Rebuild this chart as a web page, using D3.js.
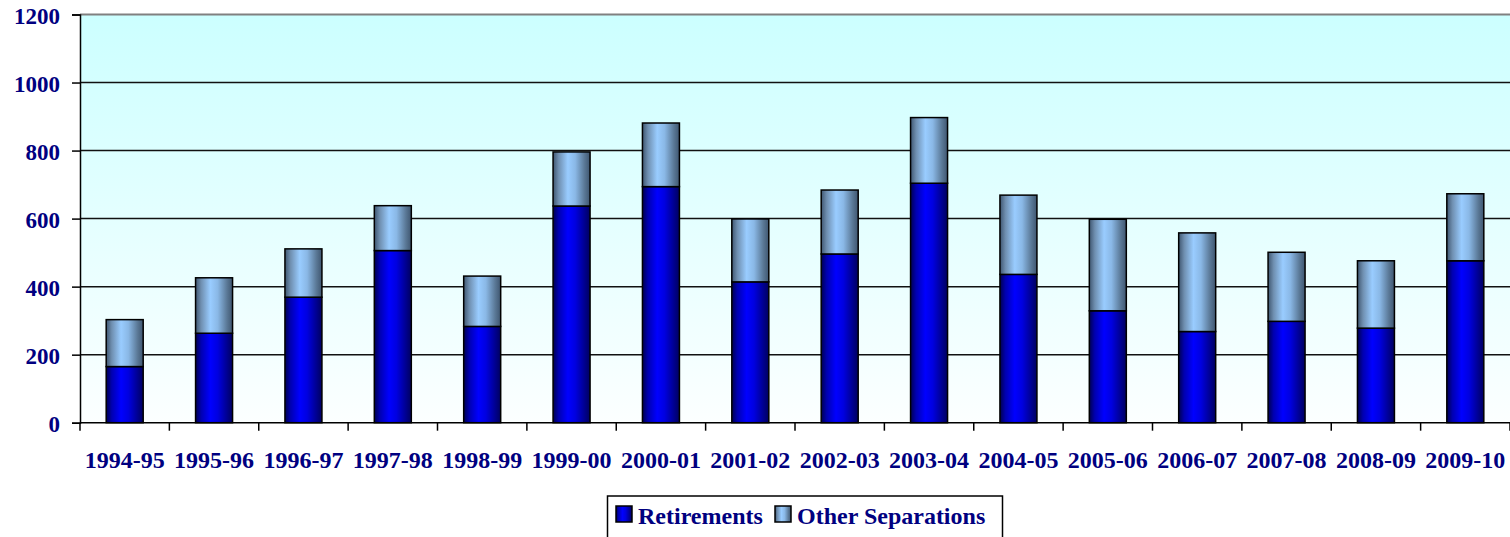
<!DOCTYPE html>
<html><head><meta charset="utf-8">
<script src="https://cdn.jsdelivr.net/npm/d3@7/dist/d3.min.js"></script>
<style>
html,body{margin:0;padding:0;background:#fff;}
svg{display:block;}
text{font-family:"Liberation Serif","Times New Roman",serif;font-weight:bold;fill:#000080;}
</style></head>
<body>
<svg id="chart" width="1510" height="537"></svg>
<script>
const categories = ["1994-95","1995-96","1996-97","1997-98","1998-99","1999-00","2000-01","2001-02","2002-03","2003-04","2004-05","2005-06","2006-07","2007-08","2008-09","2009-10"];
const retirements = [165,263,369,506,283,637,694,414,496,704,436,329,268,298,278,476];
const otherSeparations = [138,163,142,132,148,159,187,185,188,193,233,269,290,203,198,197];
const yTicks = [0,200,400,600,800,1000,1200];
const seriesNames = ["Retirements","Other Separations"];

const svg = d3.select("#chart");
const mLeft = 80, mRight = 1510, mTop = 14.5, mBottom = 422.7;

const x = d3.scaleBand().domain(categories).range([mLeft, mRight]).paddingInner(0.586).paddingOuter(0.293);
const y = d3.scaleLinear().domain([0,1200]).range([mBottom, mTop]);

const defs = svg.append("defs");
const bg = defs.append("linearGradient").attr("id","bg").attr("x1",0).attr("y1",0).attr("x2",0).attr("y2",1);
bg.append("stop").attr("offset","0%").attr("stop-color","#ccffff");
bg.append("stop").attr("offset","100%").attr("stop-color","#fcffff");

function hGrad(id, stops){
  const g = defs.append("linearGradient").attr("id",id).attr("x1",0).attr("y1",0).attr("x2",1).attr("y2",0);
  stops.forEach(s=>g.append("stop").attr("offset",s[0]).attr("stop-color",s[1]));
}
hGrad("gRet", [["0%","#000050"],["15%","#0000b0"],["40%","#0000ff"],["60%","#0000e0"],["85%","#000090"],["100%","#000060"]]);
hGrad("gOth", [["0%","#3f5670"],["15%","#6f8fb0"],["40%","#99ccff"],["60%","#8ab8e6"],["85%","#5a7896"],["100%","#3f5670"]]);

// plot background
svg.append("rect").attr("x",mLeft).attr("y",y(1200)).attr("width",mRight-mLeft).attr("height",y(0)-y(1200)).attr("fill","url(#bg)");

// gridlines
svg.append("g").selectAll("line").data(yTicks.filter(d=>d>0)).join("line")
  .attr("x1",mLeft).attr("x2",mRight).attr("y1",d=>y(d)).attr("y2",d=>y(d))
  .attr("stroke",d=>d===1200?"#808080":"#111").attr("stroke-width",d=>d===1200?2:1.5);

// stacked bars
const stackData = categories.map((c,i)=>({cat:c, r:retirements[i], o:otherSeparations[i]}));
const stack = d3.stack().keys(["r","o"])(stackData);
const fills = ["url(#gRet)","url(#gOth)"];
stack.forEach((layer,li)=>{
  svg.append("g").selectAll("rect").data(layer).join("rect")
    .attr("x",d=>x(d.data.cat)).attr("width",x.bandwidth())
    .attr("y",d=>y(d[1])).attr("height",d=>y(d[0])-y(d[1]))
    .attr("fill",fills[li]).attr("stroke","#000").attr("stroke-width",1.5);
});

// y axis
const yAxis = svg.append("g").attr("transform",`translate(${mLeft},0)`)
  .call(d3.axisLeft(y).tickValues(yTicks).tickSize(8).tickPadding(12).tickFormat(d3.format("d")));
yAxis.attr("font-family",null);
yAxis.select(".domain").attr("stroke","#000").attr("stroke-width",1.5);
yAxis.selectAll(".tick line").attr("stroke","#000").attr("stroke-width",1.5);
yAxis.selectAll(".tick text").attr("font-size",23).attr("dy","0.38em").attr("fill","#000080");

// x axis
const step = x.step();
const boundaries = categories.map(c=>x(c)-x.paddingOuter()*step).concat([mRight]);
svg.append("line").attr("x1",mLeft).attr("x2",mRight).attr("y1",y(0)).attr("y2",y(0)).attr("stroke","#000").attr("stroke-width",1.5);
svg.append("g").selectAll("line").data(boundaries).join("line")
  .attr("x1",d=>d).attr("x2",d=>d).attr("y1",y(0)).attr("y2",y(0)+8).attr("stroke","#000").attr("stroke-width",1.5);
svg.append("g").selectAll("text").data(categories).join("text")
  .attr("x",d=>x(d)+x.bandwidth()/2).attr("y",468).attr("text-anchor","middle").attr("font-size",24).text(d=>d);

// legend
const lg = svg.append("g");
lg.append("rect").attr("x",607.5).attr("y",496).attr("width",395).attr("height",50).attr("fill","#fff").attr("stroke","#000").attr("stroke-width",1.5);
const legendItems = [{name:seriesNames[0], fill:"url(#gRet)", sx:616, tx:638},{name:seriesNames[1], fill:"url(#gOth)", sx:775, tx:797}];
legendItems.forEach(it=>{
  lg.append("rect").attr("x",it.sx).attr("y",506).attr("width",16).attr("height",16).attr("fill",it.fill).attr("stroke","#000").attr("stroke-width",1.5);
  lg.append("text").attr("x",it.tx).attr("y",524).attr("font-size",24).text(it.name);
});
</script>
</body></html>
